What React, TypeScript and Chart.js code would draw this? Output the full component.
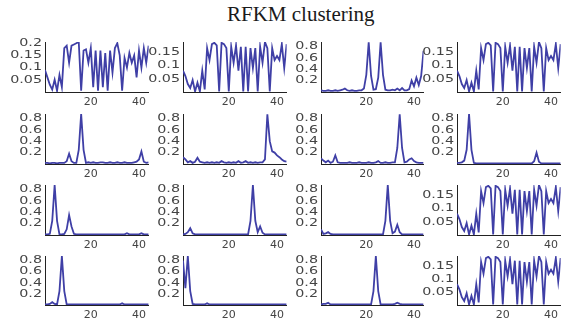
import React, { useEffect, useRef } from "react";
import { Chart, registerables } from "chart.js";

Chart.register(...registerables);

// ---------- data ----------
const xIndex = [
  1, 2, 3, 4, 5, 6, 7, 8, 9, 10, 11, 12, 13, 14, 15, 16, 17, 18, 19, 20, 21, 22,
  23, 24, 25, 26, 27, 28, 29, 30, 31, 32, 33, 34, 35, 36, 37, 38, 39, 40, 41, 42, 43, 44,
];
const xTicks = [20, 40];
const ticksOscA = [0.05, 0.1, 0.15, 0.2];
const ticksOscB = [0.05, 0.1, 0.15];
const ticksPeak = [0.2, 0.4, 0.6, 0.8];

const oscA = [
  0.09, 0.06, 0.03, 0.01, 0.05, 0.005, 0.07, 0.02, 0.18, 0.19,
  0.12, 0.19, 0.195, 0.2, 0.205, 0.005, 0.17, 0.175, 0.12, 0.18,
  0.02, 0.17, 0.005, 0.17, 0.02, 0.16, 0.005, 0.17, 0.08, 0.18,
  0.2, 0.15, 0.005, 0.14, 0.1, 0.16, 0.12, 0.15, 0.06, 0.17,
  0.1, 0.18, 0.12, 0.19,
];
const oscB = [
  0.08, 0.06, 0.03, 0.015, 0.045, 0.002, 0.035, 0.002, 0.08, 0.01,
  0.165, 0.12, 0.18, 0.185, 0.175, 0.002, 0.185, 0.18, 0.165, 0.002,
  0.17, 0.11, 0.175, 0.08, 0.17, 0.002, 0.17, 0.002, 0.165, 0.09,
  0.165, 0.002, 0.17, 0.11, 0.188, 0.165, 0.002, 0.165, 0.12, 0.135,
  0.12, 0.18, 0.09, 0.18,
];
const peakR1C3 = [
  0.03, 0.02, 0.02, 0.03, 0.02, 0.02, 0.03, 0.02, 0.03, 0.04,
  0.06, 0.03, 0.02, 0.03, 0.02, 0.02, 0.03, 0.03, 0.06, 0.3,
  0.87, 0.28, 0.04, 0.05, 0.25, 0.87, 0.3, 0.04, 0.03, 0.03,
  0.04, 0.03, 0.06, 0.03, 0.07, 0.03, 0.03, 0.05, 0.2, 0.1,
  0.25, 0.12, 0.28, 0.72,
];
const peakR2C1 = [
  0.02, 0.02, 0.01, 0.02, 0.02, 0.01, 0.02, 0.02, 0.02, 0.05,
  0.18, 0.05, 0.02, 0.02, 0.25, 0.88, 0.25, 0.02, 0.03, 0.02,
  0.03, 0.02, 0.02, 0.03, 0.03, 0.02, 0.02, 0.03, 0.02, 0.02,
  0.03, 0.02, 0.02, 0.03, 0.02, 0.02, 0.02, 0.03, 0.04, 0.08,
  0.22, 0.04, 0.02, 0.03,
];
const peakR2C2 = [
  0.12, 0.08, 0.03, 0.05, 0.02, 0.04, 0.11, 0.04, 0.03, 0.02,
  0.03, 0.02, 0.03, 0.02, 0.03, 0.02, 0.05, 0.03, 0.02, 0.03,
  0.02, 0.03, 0.02, 0.05, 0.02, 0.03, 0.05, 0.02, 0.03, 0.02,
  0.03, 0.02, 0.03, 0.03, 0.08, 0.87, 0.4, 0.22, 0.2, 0.15,
  0.12, 0.08, 0.05, 0.04,
];
const peakR2C3 = [
  0.1, 0.06, 0.03, 0.06, 0.02, 0.04, 0.15, 0.03, 0.02, 0.02,
  0.02, 0.02, 0.03, 0.02, 0.02, 0.02, 0.03, 0.02, 0.02, 0.02,
  0.03, 0.02, 0.02, 0.03, 0.05, 0.02, 0.02, 0.03, 0.02, 0.02,
  0.03, 0.03, 0.28, 0.87, 0.28, 0.03, 0.04, 0.08, 0.1, 0.05,
  0.03, 0.02, 0.02, 0.02,
];
const peakR2C4 = [
  0.02, 0.02, 0.03, 0.06, 0.25, 0.88, 0.25, 0.02, 0.01, 0.01,
  0.01, 0.01, 0.01, 0.01, 0.01, 0.01, 0.01, 0.01, 0.01, 0.01,
  0.01, 0.01, 0.01, 0.01, 0.01, 0.01, 0.01, 0.01, 0.01, 0.01,
  0.01, 0.01, 0.05, 0.2, 0.04, 0.01, 0.01, 0.01, 0.01, 0.01,
  0.01, 0.01, 0.01, 0.01,
];
const peakR3C1 = [
  0.01, 0.01, 0.02, 0.25, 0.88, 0.25, 0.01, 0.01, 0.02, 0.1,
  0.35, 0.15, 0.02, 0.01, 0.01, 0.01, 0.01, 0.01, 0.01, 0.01,
  0.01, 0.01, 0.01, 0.01, 0.01, 0.01, 0.01, 0.01, 0.01, 0.01,
  0.01, 0.01, 0.01, 0.01, 0.03, 0.01, 0.01, 0.01, 0.01, 0.01,
  0.03, 0.01, 0.01, 0.01,
];
const peakR3C2 = [
  0.01, 0.02, 0.05, 0.12, 0.03, 0.01, 0.01, 0.01, 0.01, 0.01,
  0.01, 0.01, 0.01, 0.01, 0.01, 0.01, 0.01, 0.01, 0.01, 0.01,
  0.01, 0.01, 0.01, 0.01, 0.01, 0.01, 0.01, 0.01, 0.25, 0.88,
  0.25, 0.05, 0.15, 0.04, 0.01, 0.01, 0.01, 0.01, 0.01, 0.01,
  0.01, 0.01, 0.01, 0.01,
];
const peakR3C3 = [
  0.1, 0.02, 0.03, 0.05, 0.02, 0.01, 0.01, 0.01, 0.01, 0.01,
  0.01, 0.01, 0.01, 0.01, 0.01, 0.01, 0.01, 0.01, 0.01, 0.01,
  0.01, 0.01, 0.01, 0.01, 0.01, 0.01, 0.01, 0.25, 0.88, 0.25,
  0.03, 0.06, 0.18, 0.05, 0.01, 0.01, 0.01, 0.01, 0.01, 0.01,
  0.01, 0.01, 0.01, 0.01,
];
const peakR4C1 = [
  0.01, 0.01, 0.02, 0.05, 0.02, 0.01, 0.25, 0.88, 0.25, 0.01,
  0.01, 0.01, 0.01, 0.01, 0.01, 0.01, 0.01, 0.01, 0.01, 0.01,
  0.01, 0.01, 0.01, 0.01, 0.01, 0.01, 0.01, 0.01, 0.01, 0.01,
  0.01, 0.01, 0.03, 0.01, 0.01, 0.01, 0.01, 0.01, 0.01, 0.01,
  0.01, 0.01, 0.01, 0.01,
];
const peakR4C2 = [
  0.8, 0.3, 0.88, 0.25, 0.02, 0.01, 0.01, 0.01, 0.01, 0.01,
  0.03, 0.01, 0.01, 0.01, 0.01, 0.01, 0.01, 0.01, 0.01, 0.01,
  0.01, 0.01, 0.01, 0.01, 0.01, 0.01, 0.01, 0.01, 0.01, 0.01,
  0.01, 0.01, 0.01, 0.01, 0.01, 0.01, 0.01, 0.01, 0.01, 0.01,
  0.01, 0.01, 0.01, 0.01,
];
const peakR4C3 = [
  0.01, 0.02, 0.02, 0.04, 0.01, 0.01, 0.01, 0.01, 0.01, 0.01,
  0.01, 0.01, 0.01, 0.01, 0.01, 0.01, 0.01, 0.01, 0.01, 0.01,
  0.01, 0.01, 0.25, 0.88, 0.25, 0.01, 0.01, 0.01, 0.01, 0.01,
  0.01, 0.02, 0.04, 0.02, 0.01, 0.01, 0.01, 0.01, 0.01, 0.01,
  0.01, 0.01, 0.01, 0.01,
];

const titleText = "RFKM clustering";

// ---------- layout ----------
const colAxisX = [45, 183, 321, 457];
const colRight = [150, 288, 425, 562];
const rowTop = [42, 114, 185, 256];
const rowBottom = [92, 164, 235, 305];
const Y_LABEL_W = 44;
const TOP_PAD = 8;
const X_LABEL_H = 22;

const LINE_COLOR = "#3f3fa6";
const AXIS_COLOR = "#222222";
const LABEL_COLOR = "#444444";

type PanelCfg = {
  row: number;
  col: number;
  values: number[];
  yMax: number;
  yTicks: number[];
};

const panels: PanelCfg[] = [
  { row: 0, col: 0, values: oscA, yMax: 0.205, yTicks: ticksOscA },
  { row: 0, col: 1, values: oscB, yMax: 0.188, yTicks: ticksOscB },
  { row: 0, col: 2, values: peakR1C3, yMax: 0.875, yTicks: ticksPeak },
  { row: 0, col: 3, values: oscB, yMax: 0.188, yTicks: ticksOscB },
  { row: 1, col: 0, values: peakR2C1, yMax: 0.88, yTicks: ticksPeak },
  { row: 1, col: 1, values: peakR2C2, yMax: 0.875, yTicks: ticksPeak },
  { row: 1, col: 2, values: peakR2C3, yMax: 0.875, yTicks: ticksPeak },
  { row: 1, col: 3, values: peakR2C4, yMax: 0.88, yTicks: ticksPeak },
  { row: 2, col: 0, values: peakR3C1, yMax: 0.88, yTicks: ticksPeak },
  { row: 2, col: 1, values: peakR3C2, yMax: 0.88, yTicks: ticksPeak },
  { row: 2, col: 2, values: peakR3C3, yMax: 0.88, yTicks: ticksPeak },
  { row: 2, col: 3, values: oscB, yMax: 0.188, yTicks: ticksOscB },
  { row: 3, col: 0, values: peakR4C1, yMax: 0.88, yTicks: ticksPeak },
  { row: 3, col: 1, values: peakR4C2, yMax: 0.88, yTicks: ticksPeak },
  { row: 3, col: 2, values: peakR4C3, yMax: 0.88, yTicks: ticksPeak },
  { row: 3, col: 3, values: oscB, yMax: 0.188, yTicks: ticksOscB },
];

// draws y tick labels slightly stretched horizontally, like the reference
const yLabelPlugin = {
  id: "yLabels",
  afterDraw(chart: any) {
    const ys = chart.scales.y;
    const ctx = chart.ctx as CanvasRenderingContext2D;
    const ticks: number[] = chart.options.plugins.yLabels.ticks;
    const right = chart.chartArea.left - 3;
    ctx.save();
    ctx.fillStyle = LABEL_COLOR;
    ctx.font = '11px "DejaVu Sans"';
    ctx.textAlign = "right";
    ctx.textBaseline = "middle";
    for (const v of ticks) {
      const y = ys.getPixelForValue(v);
      ctx.save();
      ctx.translate(right, y);
      ctx.scale(1.3, 1);
      ctx.fillText(String(v), 0, 0);
      ctx.restore();
    }
    ctx.restore();
  },
};

function Panel({ cfg }: { cfg: PanelCfg }) {
  const ref = useRef<HTMLCanvasElement>(null);
  const axisX = colAxisX[cfg.col];
  const plotW = colRight[cfg.col] - axisX;
  const plotH = rowBottom[cfg.row] - rowTop[cfg.row];
  const width = Y_LABEL_W + plotW;
  const height = TOP_PAD + plotH + X_LABEL_H;
  const left = axisX - Y_LABEL_W;
  const top = rowTop[cfg.row] - TOP_PAD;

  useEffect(() => {
    if (!ref.current) return;
    const points = xIndex.map((x, i) => ({ x, y: cfg.values[i] }));
    const chart = new Chart(ref.current, {
      type: "line",
      data: {
        datasets: [
          {
            data: points,
            borderColor: LINE_COLOR,
            borderWidth: 1.8,
            pointRadius: 0,
            tension: 0,
            fill: false,
          },
        ],
      },
      options: {
        animation: false,
        responsive: false,
        events: [],
        layout: { padding: { top: TOP_PAD, left: 0, right: 0, bottom: 0 } },
        plugins: {
          legend: { display: false },
          tooltip: { enabled: false },
          title: { display: false },
          yLabels: { ticks: cfg.yTicks },
        } as any,
        scales: {
          x: {
            type: "linear",
            min: 1,
            max: 44,
            grid: { display: false, drawTicks: false },
            border: { display: true, color: AXIS_COLOR, width: 1 },
            ticks: {
              color: LABEL_COLOR,
              font: { family: "DejaVu Sans", size: 11 },
              padding: 4,
              maxRotation: 0,
              autoSkip: false,
              callback: (v: any) => String(v),
            },
            afterBuildTicks: (s: any) => {
              s.ticks = xTicks.map((v) => ({ value: v }));
            },
            afterFit: (s: any) => {
              s.height = X_LABEL_H;
            },
          },
          y: {
            type: "linear",
            min: 0,
            max: cfg.yMax,
            grid: { display: false, drawTicks: false },
            border: { display: true, color: AXIS_COLOR, width: 1 },
            ticks: { display: false },
            afterBuildTicks: (s: any) => {
              s.ticks = cfg.yTicks.map((v) => ({ value: v }));
            },
            afterFit: (s: any) => {
              s.width = Y_LABEL_W;
            },
          },
        },
      },
      plugins: [yLabelPlugin],
    });
    return () => chart.destroy();
  }, []);

  return (
    <canvas
      ref={ref}
      width={width}
      height={height}
      style={{ position: "absolute", left, top, width, height }}
    />
  );
}

export default function App() {
  return (
    <div
      style={{
        position: "absolute",
        left: 0,
        top: 0,
        width: 564,
        height: 324,
        overflow: "hidden",
        background: "#ffffff",
      }}
    >
      <div
        style={{
          position: "absolute",
          left: 227,
          top: 4,
          font: '21px "Liberation Serif"',
          lineHeight: "21px",
          color: "#1a1a1a",
          whiteSpace: "nowrap",
        }}
      >
        {titleText}
      </div>
      {panels.map((p, i) => (
        <Panel key={i} cfg={p} />
      ))}
    </div>
  );
}
